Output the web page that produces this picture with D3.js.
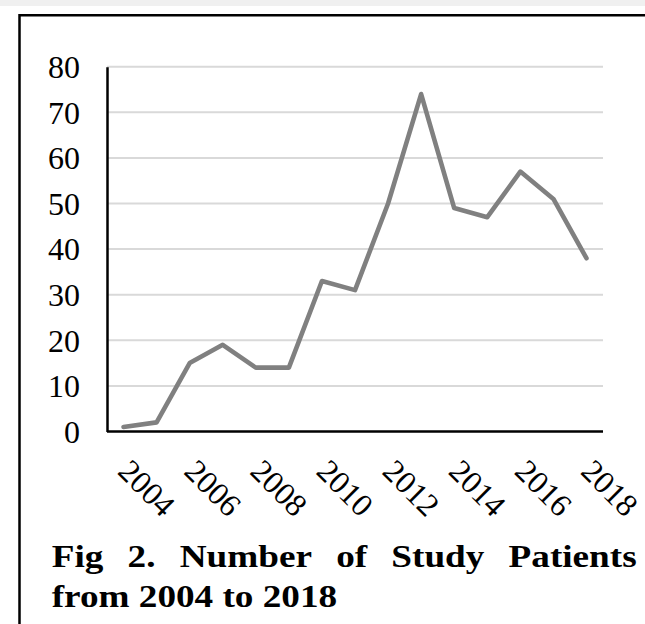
<!DOCTYPE html>
<html>
<head>
<meta charset="utf-8">
<script src="https://cdn.jsdelivr.net/npm/d3@7"></script>
<style>
  html, body { margin: 0; padding: 0; background: #fff; }
  svg { display: block; }
</style>
</head>
<body>
<div id="chart"></div>
<script>
// data
const years = ["2004","2005","2006","2007","2008","2009","2010","2011","2012","2013","2014","2015","2016","2017","2018"];
const patients = [1, 2, 15, 19, 14, 14, 33, 31, 50, 74, 49, 47, 57, 51, 38];
const yTicks = [0, 10, 20, 30, 40, 50, 60, 70, 80];
const xTickLabels = ["2004","2006","2008","2010","2012","2014","2016","2018"];
const captionLine1 = ["Fig", "2.", "Number", "of", "Study", "Patients"];
const captionLine2 = "from 2004 to 2018";

const W = 645, H = 624;
const plot = {left: 107, right: 603, top: 66.7, bottom: 431.5};

const svg = d3.select("#chart")
  .append("svg")
    .attr("width", W)
    .attr("height", H);

// grey strip at the very top
svg.append("rect")
  .attr("x", 0).attr("y", 0)
  .attr("width", W).attr("height", 6)
  .attr("fill", "#f0f0f0");

// frame (right and bottom sides run off the page)
svg.append("path")
  .attr("d", `M19.5,${H + 5} V15.2 H${W + 5}`)
  .attr("fill", "none")
  .attr("stroke", "#000")
  .attr("stroke-width", 2.5);

const x = d3.scalePoint()
  .domain(years)
  .range([plot.left, plot.right])
  .padding(0.5);

const y = d3.scaleLinear()
  .domain([0, 80])
  .range([plot.bottom, plot.top]);

// gridlines
svg.append("g")
  .selectAll("line")
  .data(yTicks.filter(d => d > 0))
  .join("line")
    .attr("x1", plot.left)
    .attr("x2", plot.right)
    .attr("y1", d => y(d))
    .attr("y2", d => y(d))
    .attr("stroke", "#d9d9d9")
    .attr("stroke-width", 2);

// Y axis
const yAxis = svg.append("g")
  .attr("transform", `translate(${plot.left},0)`)
  .call(d3.axisLeft(y).tickValues(yTicks).tickSize(0).tickPadding(27));
yAxis.select(".domain").attr("stroke", "#000").attr("stroke-width", 2.5);
yAxis.selectAll("text")
  .attr("font-family", "'Liberation Serif', 'Times New Roman', serif")
  .attr("font-size", "32px")
  .attr("fill", "#000")
  .attr("dy", "0.34em");

// X axis line
svg.append("line")
  .attr("x1", plot.left)
  .attr("x2", plot.right)
  .attr("y1", y(0))
  .attr("y2", y(0))
  .attr("stroke", "#000")
  .attr("stroke-width", 2.5);

// rotated X labels
svg.append("g")
  .selectAll("text")
  .data(xTickLabels)
  .join("text")
    .attr("transform", d => `translate(${x(d) - 7},473) rotate(45)`)
    .attr("font-family", "'Liberation Serif', 'Times New Roman', serif")
    .attr("font-size", "32px")
    .attr("fill", "#000")
    .attr("text-anchor", "start")
    .text(d => d);

// the line
svg.append("path")
  .datum(patients)
  .attr("fill", "none")
  .attr("stroke", "#808080")
  .attr("stroke-width", 4.6)
  .attr("stroke-linejoin", "round")
  .attr("stroke-linecap", "round")
  .attr("d", d3.line()
    .x((d, i) => x(years[i]))
    .y(d => y(d)));

// caption, justified on the first line
const capFont = "'Liberation Serif', 'Times New Roman', serif";
const capLeft = 51.7, capRight = 636.7, sx = 1.2;
const cap = svg.append("g")
  .attr("font-family", capFont)
  .attr("font-size", "31px")
  .attr("font-weight", "bold")
  .attr("fill", "#000");

const words = cap.selectAll("text.w")
  .data(captionLine1)
  .join("text")
    .attr("class", "w")
    .text(d => d);
const widths = [];
words.each(function() { widths.push(this.getComputedTextLength() * sx); });
const gap = (capRight - capLeft - d3.sum(widths)) / (widths.length - 1);
let cx = capLeft;
words.each(function(d, i) {
  d3.select(this).attr("transform", `translate(${cx},566.7) scale(${sx},1)`);
  cx += widths[i] + gap;
});

cap.append("text")
  .attr("transform", `translate(${capLeft},606.7) scale(${sx},1)`)
  .text(captionLine2);
</script>
</body>
</html>
